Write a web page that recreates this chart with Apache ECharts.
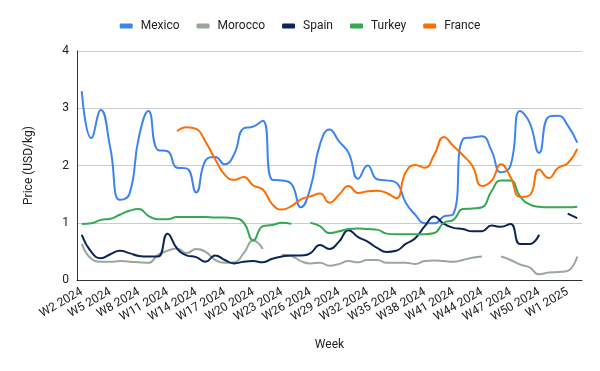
<!DOCTYPE html>
<html>
<head>
<meta charset="utf-8">
<script src="https://cdn.jsdelivr.net/npm/echarts@6/dist/echarts.min.js"></script>
<style>
html,body{margin:0;padding:0;background:#fff;}
#chart{width:600px;height:371px;}
</style>
</head>
<body>
<div id="chart"></div>
<script>
const weeks = [
  "W2 2024","W3 2024","W4 2024","W5 2024","W6 2024","W7 2024","W8 2024","W9 2024","W10 2024","W11 2024",
  "W12 2024","W13 2024","W14 2024","W15 2024","W16 2024","W17 2024","W18 2024","W19 2024","W20 2024","W21 2024",
  "W22 2024","W23 2024","W24 2024","W25 2024","W26 2024","W27 2024","W28 2024","W29 2024","W30 2024","W31 2024",
  "W32 2024","W33 2024","W34 2024","W35 2024","W36 2024","W37 2024","W38 2024","W39 2024","W40 2024","W41 2024",
  "W42 2024","W43 2024","W44 2024","W45 2024","W46 2024","W47 2024","W48 2024","W49 2024","W50 2024","W51 2024",
  "W52 2024","W1 2025","W2 2025"
];

const mexico = [3.30,2.48,2.97,2.30,1.40,1.50,2.50,2.95,2.27,2.25,
  1.96,1.95,1.53,2.09,2.15,2.02,2.20,2.65,2.68,2.78,
  1.75,1.74,1.68,1.27,1.61,2.37,2.63,2.42,2.22,1.77,
  2.00,1.76,1.74,1.70,1.35,1.14,0.99,0.99,1.11,1.15,
  2.46,2.49,2.51,2.26,1.88,2.00,2.95,2.75,2.22,2.85,
  2.87,2.70,2.40];

const morocco = [0.63,0.37,0.32,0.32,0.33,0.32,0.31,0.30,0.44,0.51,
  0.55,0.47,0.54,0.49,0.35,0.30,0.31,0.47,0.69,0.54,
  null,0.44,0.42,0.33,0.29,0.30,0.25,0.28,0.33,0.31,
  0.35,0.35,0.30,0.30,0.30,0.28,0.33,0.34,0.33,0.32,
  0.35,0.39,0.41,null,0.41,0.35,0.27,0.22,0.10,0.13,
  0.14,0.16,0.41];

const spain = [0.79,0.49,0.38,0.45,0.51,0.47,0.42,0.41,0.41,0.81,
  0.55,0.43,0.40,0.32,0.43,0.35,0.29,0.32,0.33,0.31,
  0.37,0.41,0.43,0.43,0.47,0.61,0.54,0.67,0.87,0.75,
  0.67,0.56,0.49,0.51,0.63,0.73,0.94,1.11,0.98,0.91,
  0.89,0.85,0.85,0.95,0.93,0.98,0.63,0.63,0.79,null,
  null,1.16,1.08];

const turkey = [0.98,0.99,1.05,1.07,1.14,1.21,1.24,1.12,1.06,1.06,
  1.10,1.10,1.10,1.10,1.09,1.09,1.08,1.00,0.69,0.94,
  0.96,1.00,0.98,null,1.00,0.94,0.82,0.85,0.89,0.90,
  0.89,0.88,0.81,0.80,0.80,0.80,0.80,0.82,1.00,1.05,
  1.24,1.25,1.27,1.55,1.74,1.74,1.46,1.32,1.28,1.27,
  1.27,1.27,1.28];

const france = [null,null,null,null,null,null,null,null,null,null,
  2.60,2.67,2.64,2.41,2.11,1.84,1.75,1.80,1.65,1.58,
  1.32,1.23,1.29,1.41,1.46,1.51,1.35,1.49,1.64,1.52,
  1.55,1.56,1.52,1.43,1.88,2.01,1.96,2.19,2.50,2.34,
  2.18,1.99,1.64,1.73,2.02,1.80,1.45,1.48,1.93,1.78,
  1.96,2.04,2.29];

const seriesNames = ["Mexico","Morocco","Spain","Turkey","France"];
const seriesData = [mexico, morocco, spain, turkey, france];
const colors = ["#3d83f2","#9aa79b","#0c2557","#34a853","#ff6d01"];
const yTicks = [0,1,2,3,4];

const chart = echarts.init(document.getElementById('chart'), null, {renderer:'canvas'});
const font = 'Roboto, "Liberation Sans", Arial, sans-serif';
chart.setOption({
  animation:false,
  backgroundColor:'#ffffff',
  color: colors,
  textStyle:{fontFamily:font},
  legend:{
    top:20, left:'center', padding:0,
    icon:'roundRect', itemWidth:13, itemHeight:5, itemGap:17,
    textStyle:{fontSize:12, color:'#222', fontFamily:font, padding:[0,0,0,3]},
    data: seriesNames
  },
  grid:{left:77, right:18, top:51, bottom:91, containLabel:false},
  xAxis:{
    type:'category', data:weeks, boundaryGap:true,
    name:'Week', nameLocation:'middle', nameGap:59,
    nameTextStyle:{fontSize:12, color:'#222', fontFamily:font},
    axisLine:{lineStyle:{color:'#333', width:1}},
    axisTick:{show:false},
    axisLabel:{interval:2, rotate:30, fontSize:12, color:'#222', margin:11, fontFamily:font},
    splitLine:{show:false}
  },
  yAxis:{
    type:'value', min:yTicks[0], max:yTicks[yTicks.length-1], interval:1,
    name:'Price (USD/kg)', nameLocation:'middle', nameGap:42, nameRotate:90,
    nameTextStyle:{fontSize:12, color:'#222', fontFamily:font},
    axisLine:{show:true, lineStyle:{color:'#333', width:1}},
    axisTick:{show:false},
    axisLabel:{fontSize:12, color:'#222', margin:8, fontFamily:font},
    splitLine:{lineStyle:{color:'#cccccc', width:1}}
  },
  series: seriesNames.map((n,k)=>({
    name:n, type:'line', data:seriesData[k], smooth:0.5, showSymbol:false,
    connectNulls:false, lineStyle:{width:2, color:colors[k]}, itemStyle:{color:colors[k]}
  }))
});
</script>
</body>
</html>
